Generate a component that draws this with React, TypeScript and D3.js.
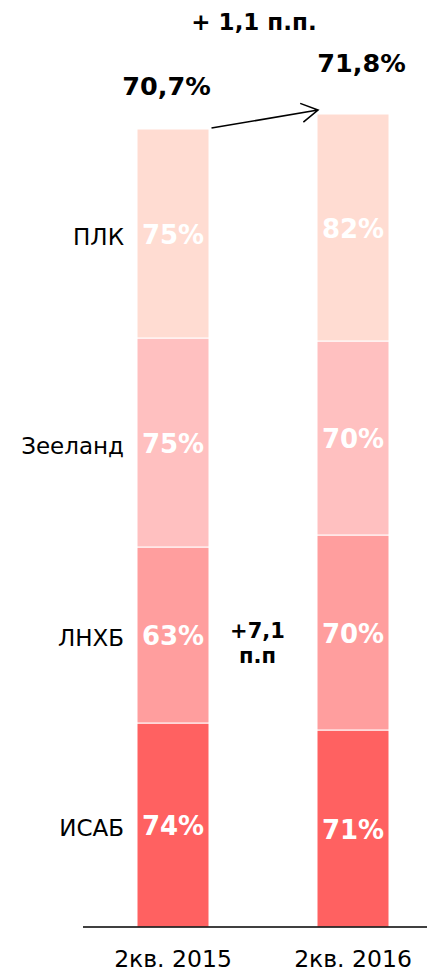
// Stacked refinery utilisation bars, 2Q 2015 vs 2Q 2016
import React, { useEffect, useRef } from 'react';
import * as d3 from 'd3';

const periods = ['2кв. 2015', '2кв. 2016'];
const refineries = ['ИСАБ', 'ЛНХБ', 'Зееланд', 'ПЛК'];
// segment sizes (throughput volume, relative units)
const volume2015 = [20.4, 17.6, 20.9, 20.9];
const volume2016 = [19.7, 19.5, 19.4, 22.7];
// utilisation labels inside segments
const util2015 = ['74%', '63%', '75%', '75%'];
const util2016 = ['71%', '70%', '70%', '82%'];
const totals = ['70,7%', '71,8%'];
const deltaTop = '+ 1,1 п.п.';
const deltaMid = ['+7,1', 'п.п'];

const colors = ['#FF6161', '#FF9E9E', '#FFC0C0', '#FFDCD2'];

const W = 427;
const H = 972;
const FONT = '"DejaVu Sans", Verdana, sans-serif';

export default function App() {
  const svgRef = useRef<SVGSVGElement>(null);

  useEffect(() => {
    if (!svgRef.current) return;
    const svg = d3.select(svgRef.current);
    svg.selectAll('*').remove();

    const x = d3.scaleBand<string>()
      .domain(periods)
      .range([83, 443])
      .paddingInner(0.6)
      .paddingOuter(0.3);

    const y = d3.scaleLinear().domain([0, 85]).range([927, 77]);

    const rows = periods.map((p, i) => {
      const vals = i === 0 ? volume2015 : volume2016;
      const row: any = { period: p };
      refineries.forEach((r, j) => (row[r] = vals[j]));
      return row;
    });
    const labels = [util2015, util2016];

    const series = d3.stack().keys(refineries)(rows);

    const g = svg.append('g');

    series.forEach((s, j) => {
      s.forEach((d, i) => {
        const x0 = x(periods[i])!;
        g.append('rect')
          .attr('x', x0)
          .attr('y', y(d[1]))
          .attr('width', x.bandwidth())
          .attr('height', y(d[0]) - y(d[1]))
          .attr('fill', colors[j])
          .attr('stroke', '#fff')
          .attr('stroke-width', 1);

        g.append('text')
          .attr('x', x0 + x.bandwidth() / 2)
          .attr('y', (y(d[0]) + y(d[1])) / 2 + 1)
          .attr('text-anchor', 'middle')
          .attr('dominant-baseline', 'central')
          .attr('font-family', FONT)
          .attr('font-weight', 'bold')
          .attr('font-size', 26)
          .attr('fill', '#fff')
          .text(labels[i][j]);
      });
    });

    // category labels left of the first bar
    const first = series.map(s => s[0]);
    first.forEach((d, j) => {
      g.append('text')
        .attr('x', 124)
        .attr('y', (y(d[0]) + y(d[1])) / 2 + 3)
        .attr('text-anchor', 'end')
        .attr('dominant-baseline', 'central')
        .attr('font-family', FONT)
        .attr('font-size', 23)
        .attr('fill', '#000')
        .text(refineries[j]);
    });

    // baseline axis
    g.append('line')
      .attr('x1', 83)
      .attr('x2', W)
      .attr('y1', y(0))
      .attr('y2', y(0))
      .attr('stroke', '#000')
      .attr('stroke-width', 1.5);

    periods.forEach(p => {
      g.append('text')
        .attr('x', x(p)! + x.bandwidth() / 2)
        .attr('y', 967)
        .attr('text-anchor', 'middle')
        .attr('font-family', FONT)
        .attr('font-size', 23.5)
        .attr('fill', '#000')
        .text(p);
    });

    // totals above bars
    const tops = rows.map((_, i) => y(series[series.length - 1][i][1]));
    const offsets = [-6.5, 8.5];
    const lift = [34, 42];
    periods.forEach((p, i) => {
      g.append('text')
        .attr('x', x(p)! + x.bandwidth() / 2 + offsets[i])
        .attr('y', tops[i] - lift[i])
        .attr('text-anchor', 'middle')
        .attr('font-family', FONT)
        .attr('font-weight', 'bold')
        .attr('font-size', 25.5)
        .attr('fill', '#000')
        .text(totals[i]);
    });

    g.append('text')
      .attr('x', 254)
      .attr('y', 30)
      .attr('text-anchor', 'middle')
      .attr('font-family', FONT)
      .attr('font-weight', 'bold')
      .attr('font-size', 23)
      .attr('fill', '#000')
      .text(deltaTop);

    // arrow between bar tops
    const sx = x(periods[0])! + x.bandwidth() + 2.5;
    const sy = tops[0] - 1;
    const ex = x(periods[1])! + 1;
    const ey = tops[1] - 4;
    const ang = Math.atan2(ey - sy, ex - sx);
    const len = 19;
    const spread = Math.PI / 6;
    const a1 = [ex - len * Math.cos(ang - spread), ey - len * Math.sin(ang - spread)];
    const a2 = [ex - len * Math.cos(ang + spread), ey - len * Math.sin(ang + spread)];
    g.append('path')
      .attr('d', `M${sx},${sy}L${ex},${ey}M${a1[0]},${a1[1]}L${ex},${ey}L${a2[0]},${a2[1]}`)
      .attr('fill', 'none')
      .attr('stroke', '#000')
      .attr('stroke-width', 1.6);

    // mid change label
    deltaMid.forEach((t, k) => {
      g.append('text')
        .attr('x', 257.5)
        .attr('y', 638 + k * 25)
        .attr('text-anchor', 'middle')
        .attr('font-family', FONT)
        .attr('font-weight', 'bold')
        .attr('font-size', 21)
        .attr('fill', '#000')
        .text(t);
    });
  }, []);

  return (
    <svg
      ref={svgRef}
      width={W}
      height={H}
      style={{ position: 'absolute', left: 0, top: 0, display: 'block', background: '#fff' }}
    />
  );
}
